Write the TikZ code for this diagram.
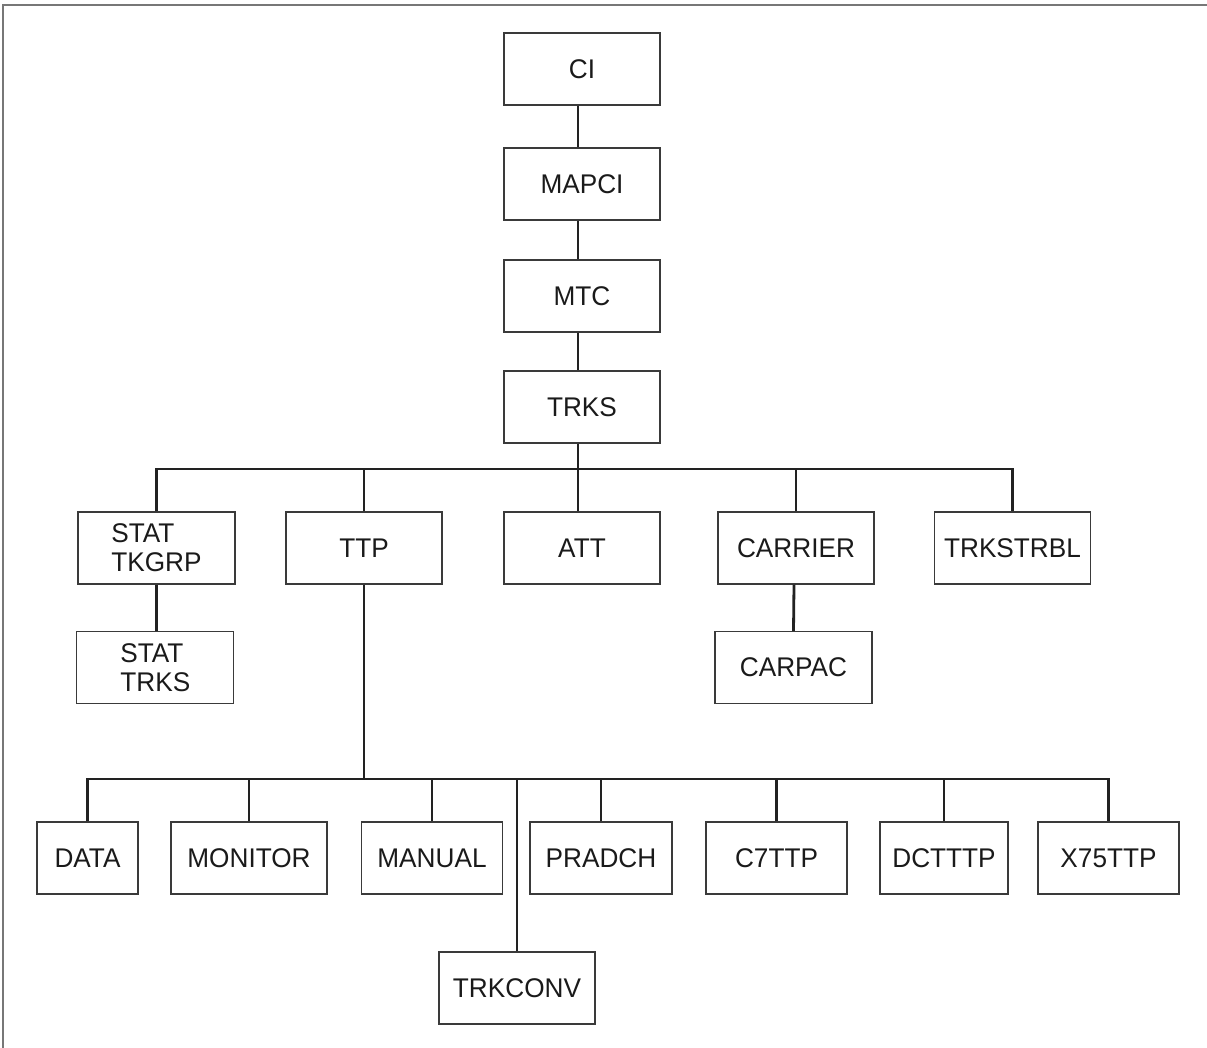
\documentclass[tikz,border=0pt]{standalone}
\usepackage{fontspec}
\setmainfont[FakeStretch=0.97]{Liberation Sans}
\definecolor{boxline}{HTML}{3A3A3A}
\definecolor{wire}{HTML}{222222}
\definecolor{framegray}{HTML}{777777}
\definecolor{ink}{HTML}{1A1A1A}
\begin{document}
\begin{tikzpicture}[x=1pt,y=-1pt,
  box/.style={draw=boxline, line width=1.2pt, rectangle, minimum height=72pt,
    inner sep=0pt, align=left, text=ink, font=\fontsize{27}{29}\selectfont},
  link/.style={draw=wire, line width=2.8pt}]
\useasboundingbox (0,0) rectangle (1207,1048);
% outer frame (top and left edges)
\draw[framegray, line width=2pt] (2.5,1048) -- (2.5,5) -- (1207,5);

% main column
\node[box, minimum width=156pt] (ci)    at (582,69)  {CI};
\node[box, minimum width=156pt] (mapci) at (582,184) {MAPCI};
\node[box, minimum width=156pt] (mtc)   at (582,296) {MTC};
\node[box, minimum width=156pt] (trks)  at (582,407) {TRKS};

% second level
\node[box, minimum width=157pt] (stattkgrp) at (156.5,548) {STAT\\TKGRP};
\node[box, minimum width=156pt] (ttp)       at (364,548)   {TTP};
\node[box, minimum width=156pt] (att)       at (582,548)   {ATT};
\node[box, minimum width=156pt] (carrier)   at (796,548)   {CARRIER};
\node[box, minimum width=156pt] (trkstrbl)  at (1012.5,548) {TRKSTRBL};

% third level
\node[box, minimum width=157pt] (stattrks) at (155.3,667.5) {STAT\\TRKS};
\node[box, minimum width=157pt] (carpac)   at (793.5,667.5) {CARPAC};

% TTP children
\node[box, minimum width=101pt] (data)    at (87.5,858)  {DATA};
\node[box, minimum width=156pt] (monitor) at (249,858)   {MONITOR};
\node[box, minimum width=141pt] (manual)  at (432,858)   {MANUAL};
\node[box, minimum width=142pt] (pradch)  at (601,858)   {PRADCH};
\node[box, minimum width=141pt] (c7ttp)   at (776.5,858) {C7TTP};
\node[box, minimum width=128pt] (dctttp)  at (944,858)   {DCTTTP};
\node[box, minimum width=141pt] (x75ttp)  at (1108.5,858) {X75TTP};
\node[box, minimum width=156pt] (trkconv) at (517,988)   {TRKCONV};

% bus levels
\coordinate (busA) at (0,469);
\coordinate (busB) at (0,779);

% spine
\draw[link] ([xshift=-4pt]ci.south)    -- ([xshift=-4pt]mapci.north);
\draw[link] ([xshift=-4pt]mapci.south) -- ([xshift=-4pt]mtc.north);
\draw[link] ([xshift=-4pt]mtc.south)   -- ([xshift=-4pt]trks.north);
\draw[link] ([xshift=-4pt]trks.south)  -- ([xshift=-4pt]att.north);

% upper bus
\draw[link] (stattkgrp.north) -- (stattkgrp.north |- busA)
  -- (trkstrbl.north |- busA) -- (trkstrbl.north);
\draw[link] (ttp.north) -- (ttp.north |- busA);
\draw[link] (carrier.north) -- (carrier.north |- busA);

% third level links
\draw[link] (stattkgrp.south) -- (stattkgrp.south |- stattrks.north);
\draw[link] ([xshift=-2pt]carrier.south) -- (carpac.north);

% lower bus
\draw[link] (ttp.south) -- (ttp.south |- busB);
\draw[link] (data.north) -- (data.north |- busB)
  -- (x75ttp.north |- busB) -- (x75ttp.north);
\draw[link] (monitor.north) -- (monitor.north |- busB);
\draw[link] (manual.north)  -- (manual.north |- busB);
\draw[link] (trkconv.north) -- (trkconv.north |- busB);
\draw[link] (pradch.north)  -- (pradch.north |- busB);
\draw[link] (c7ttp.north)   -- (c7ttp.north |- busB);
\draw[link] (dctttp.north)  -- (dctttp.north |- busB);
\end{tikzpicture}
\end{document}
